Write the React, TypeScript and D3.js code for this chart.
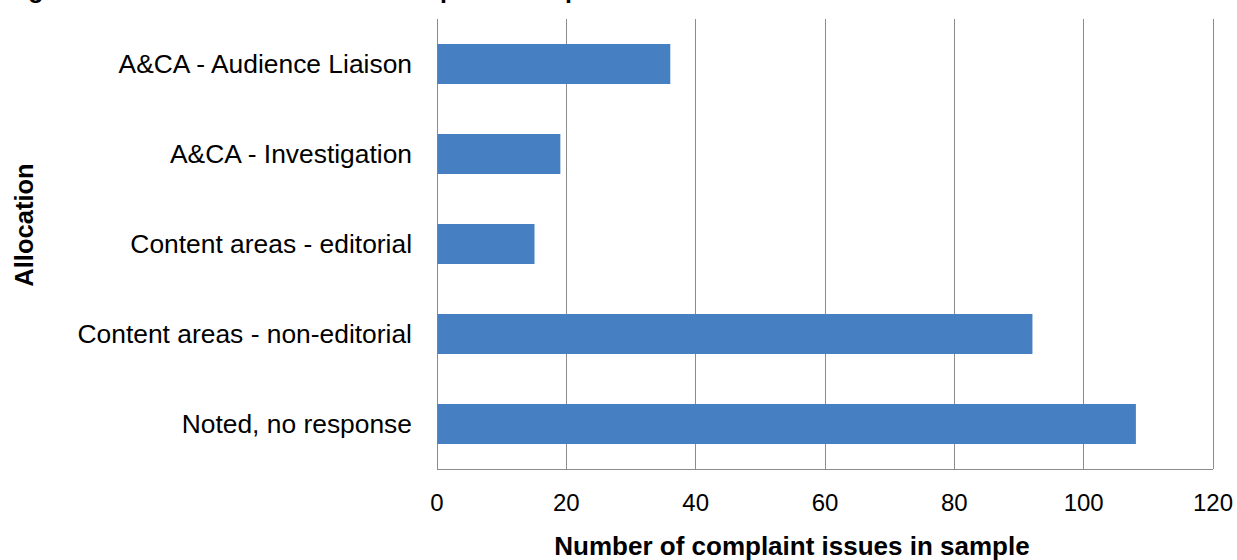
import React from "react";
import * as d3 from "d3";

// Allocation of sampled complaint issues
const categories = [
  "A&CA - Audience Liaison",
  "A&CA - Investigation",
  "Content areas - editorial",
  "Content areas - non-editorial",
  "Noted, no response",
];
const issueCounts = [36, 19, 15, 92, 108];
const xTicks = [0, 20, 40, 60, 80, 100, 120];

const titleText = "Figure 5: Allocation of issues in sample of complaints";
const xAxisTitle = "Number of complaint issues in sample";
const yAxisTitle = "Allocation";

const W = 1237;
const H = 560;
const margin = { left: 437, right: 24, top: 19, bottom: 91 };
const FONT = "'Liberation Sans', Arial, sans-serif";

export default function App() {
  const x = d3
    .scaleLinear()
    .domain([0, 120])
    .range([margin.left, W - margin.right]);
  const y = d3
    .scaleBand<string>()
    .domain(categories)
    .range([margin.top, H - margin.bottom])
    .paddingInner(0.5556)
    .paddingOuter(0.2778);

  const plotBottom = H - margin.bottom;
  const grid = "#8c8c8c";

  return (
    <svg
      width={W}
      height={H}
      style={{ position: "absolute", left: 0, top: 0, background: "#fff" }}
      fontFamily={FONT}
    >
      <rect x={0} y={0} width={W} height={H} fill="#fff" />
      <text x={6} y={-2} fontSize={25} fontWeight="bold" fill="#000">
        {titleText}
      </text>

      {xTicks.map((t) => (
        <line
          key={`g${t}`}
          x1={x(t)}
          x2={x(t)}
          y1={margin.top}
          y2={plotBottom}
          stroke={grid}
          strokeWidth={1}
          shapeRendering="crispEdges"
        />
      ))}
      <line
        x1={x(0)}
        x2={x(120)}
        y1={plotBottom}
        y2={plotBottom}
        stroke={grid}
        strokeWidth={1}
        shapeRendering="crispEdges"
      />

      {categories.map((c, i) => (
        <rect
          key={c}
          x={x(0) + 0.5}
          y={y(c)}
          width={x(issueCounts[i]) - x(0)}
          height={y.bandwidth()}
          fill="#4680c2"
        />
      ))}

      {categories.map((c) => (
        <text
          key={`l${c}`}
          x={412}
          y={(y(c) ?? 0) + y.bandwidth() / 2 + 8.5}
          textAnchor="end"
          fontSize={26.4}
          fill="#000"
        >
          {c}
        </text>
      ))}

      {xTicks.map((t) => (
        <text
          key={`t${t}`}
          x={x(t)}
          y={511}
          textAnchor="middle"
          fontSize={24}
          fill="#000"
        >
          {t}
        </text>
      ))}

      <text
        x={792}
        y={555}
        textAnchor="middle"
        fontSize={26}
        fontWeight="bold"
        fill="#000"
      >
        {xAxisTitle}
      </text>
      <text
        transform={`translate(33,225) rotate(-90)`}
        textAnchor="middle"
        fontSize={25.5}
        fontWeight="bold"
        fill="#000"
      >
        {yAxisTitle}
      </text>
    </svg>
  );
}
